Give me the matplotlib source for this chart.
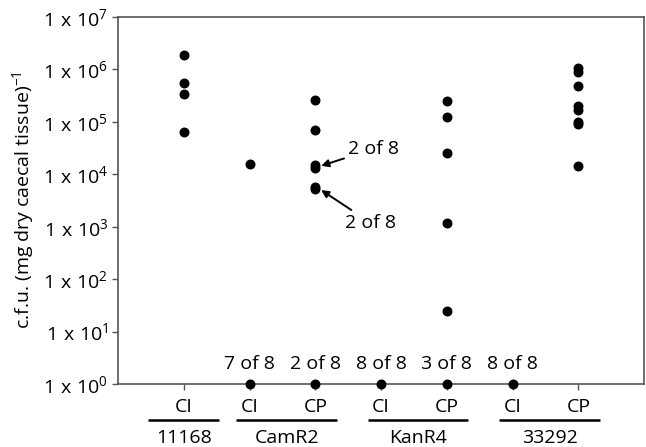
import numpy as np
import matplotlib
matplotlib.use("Agg")
import matplotlib.pyplot as plt

plt.rcParams['font.family'] = ['Open Sans', 'DejaVu Sans']
plt.rcParams['mathtext.fontset'] = 'custom'
plt.rcParams['mathtext.rm'] = 'Open Sans'
plt.rcParams['mathtext.it'] = 'Open Sans'

# --- data ---
tick_labels = ["CI", "CI", "CP", "CI", "CP", "CI", "CP"]
groups = ["11168", "CamR2", "KanR4", "33292"]
group_members = [[1], [2, 3], [4, 5], [6, 7]]

# detected counts per column (c.f.u. per mg dry caecal tissue)
values = [
    [1.9e6, 5.5e5, 3.4e5, 6.4e4],                                   # 11168 CI
    [1.56e4, 1],                                                    # CamR2 CI
    [2.6e5, 7.0e4, 1.5e4, 1.3e4, 5.8e3, 5.2e3, 1],                  # CamR2 CP
    [1],                                                            # KanR4 CI
    [2.55e5, 1.23e5, 2.5e4, 1.2e3, 25, 1],                          # KanR4 CP
    [1],                                                            # 33292 CI
    [1.05e6, 9.0e5, 4.9e5, 2.0e5, 1.7e5, 1.0e5, 9.3e4, 1.47e4],     # 33292 CP
]
below_limit = {2: "7 of 8", 3: "2 of 8", 4: "8 of 8", 5: "3 of 8", 6: "8 of 8"}

FS = 14

fig = plt.figure(figsize=(6.46, 4.47), dpi=100)
ax = fig.add_axes([0.1827, 0.1409, 0.8142, 0.8211])

for i, vals in enumerate(values, start=1):
    ax.scatter([i] * len(vals), vals, s=38, color='black', zorder=3, clip_on=False)

ax.set_yscale('log')
ax.set_ylim(1, 1e7)
ax.set_xlim(0, 8)
ax.set_yticks([10.0 ** k for k in range(8)])
ax.set_yticklabels([r"$\mathregular{1\ x\ 10^{%d}}$" % k for k in range(8)])
ax.yaxis.set_minor_locator(matplotlib.ticker.NullLocator())
ax.set_xticks(range(1, 8))
ax.set_xticklabels(tick_labels)
ax.tick_params(axis='both', labelsize=FS, direction='out', length=4, width=1, color='#555555')
ax.tick_params(axis='y', pad=3)
ax.tick_params(axis='x', pad=6)
for sp in ax.spines.values():
    sp.set_color('#555555')
    sp.set_linewidth(1.2)

ax.set_ylabel(r"c.f.u. (mg dry caecal tissue)$^{-1}$", fontsize=FS, labelpad=5)

# counts of samples below detection
for x, txt in below_limit.items():
    ax.annotate(txt, (x, 1), xytext=(0, 8), textcoords='offset points',
                ha='center', va='bottom', fontsize=FS)

# arrows for overlapping points
arrow = dict(arrowstyle='-|>', color='black', lw=1.4, shrinkA=1, shrinkB=0, mutation_scale=11)
ax.annotate("2 of 8", xy=(3.09, 1.45e4), xytext=(3.5, 3.05e4), fontsize=FS,
            ha='left', va='center', arrowprops=arrow)
ax.annotate("2 of 8", xy=(3.09, 5.0e3), xytext=(3.45, 1.2e3), fontsize=FS,
            ha='left', va='center', arrowprops=arrow)

# group underlines and names
trans = ax.get_xaxis_transform()
for name, members in zip(groups, group_members):
    if len(members) == 1:
        x0, x1 = members[0] - 0.54, members[0] + 0.54
    else:
        x0, x1 = min(members) - 0.2, max(members) + 0.33
    ax.plot([x0, x1], [-0.098, -0.098], transform=trans, color='black', lw=1.8,
            clip_on=False, solid_capstyle='butt')
    ax.text((x0 + x1) / 2, -0.147, name, transform=trans, ha='center', va='center',
            fontsize=FS)

fig.savefig("out.png", dpi=100)
